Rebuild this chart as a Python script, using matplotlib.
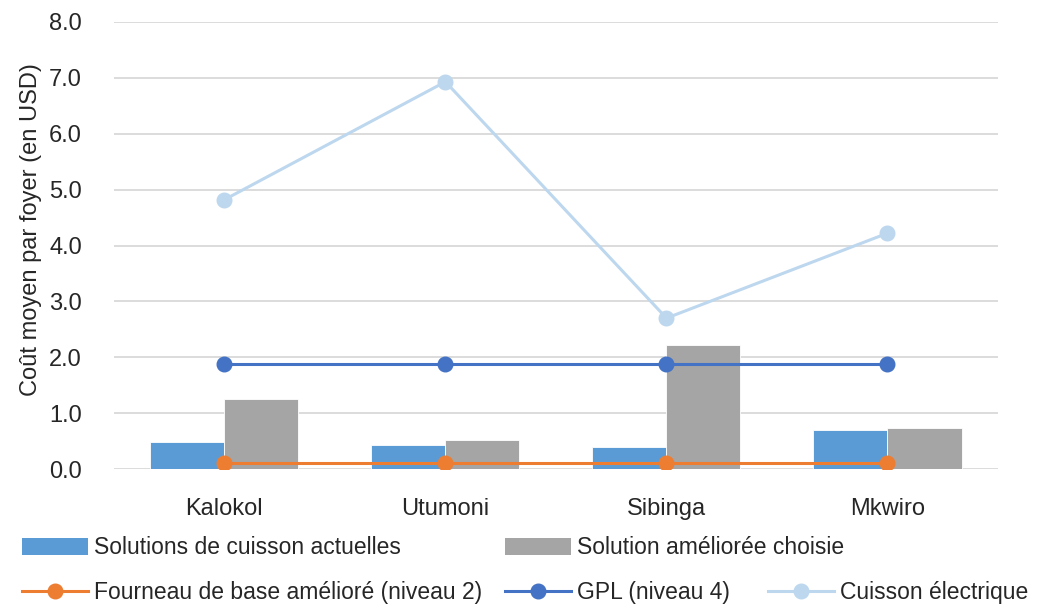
import numpy as np
import matplotlib.pyplot as plt
from matplotlib.lines import Line2D
from matplotlib.patches import Patch

plt.rcParams['font.family'] = ['Liberation Sans', 'DejaVu Sans']

# cost per household, USD
sites = ["Kalokol", "Utumoni", "Sibinga", "Mkwiro"]
actuelles = [0.48, 0.43, 0.39, 0.70]
amelioree = [1.25, 0.52, 2.22, 0.73]
fourneau = [0.10, 0.10, 0.10, 0.10]
gpl = [1.88, 1.88, 1.88, 1.88]
electrique = [4.82, 6.93, 2.70, 4.22]

c_blue = "#5B9BD5"
c_gray = "#A5A5A5"
c_orange = "#ED7D31"
c_gpl = "#4472C4"
c_elec = "#BDD7EE"
c_text = "#262626"

fig = plt.figure(figsize=(10.45, 6.07), dpi=100)
ax = fig.add_axes([0.109, 0.2273, 0.846, 0.7365])

x = np.arange(len(sites))
w = 0.335
ax.bar(x - w / 2, actuelles, w, color=c_blue, edgecolor="white", linewidth=0.6, zorder=2)
ax.bar(x + w / 2, amelioree, w, color=c_gray, edgecolor="white", linewidth=0.6, zorder=2)

ms = 10.5
ax.plot(x, fourneau, color=c_orange, lw=2.2, marker="o", ms=ms, zorder=4)
ax.plot(x, gpl, color=c_gpl, lw=2.2, marker="o", ms=ms, zorder=4)
ax.plot(x, electrique, color=c_elec, lw=2.2, marker="o", ms=ms, zorder=3)

ax.set_xlim(-0.5, 3.5)
ax.set_ylim(0, 8)
ticks = np.arange(0, 8.1, 1.0)
ax.set_yticks(ticks)
ax.set_yticklabels([f"{v:.1f}" for v in ticks])
ax.set_xticks(x)
ax.set_xticklabels(sites)
ax.tick_params(length=0, labelsize=17, colors=c_text)
ax.tick_params(axis="x", pad=21)
ax.tick_params(axis="y", pad=23)
ax.yaxis.grid(True, color="#D9D9D9", lw=1.3, zorder=0)
ax.set_axisbelow(True)
for s in ax.spines.values():
    s.set_visible(False)
ax.set_ylabel("Coût moyen par foyer (en USD)", fontsize=17, color=c_text)
ax.yaxis.set_label_coords(-0.081, 0.535)

# legend entries placed one by one
entries = [
    (Patch(facecolor=c_blue), "Solutions de cuisson actuelles", 22, 548),
    (Patch(facecolor=c_gray), "Solution améliorée choisie", 505, 548),
    (Line2D([], [], color=c_orange, lw=2.2, marker="o", ms=ms), "Fourneau de base amélioré (niveau 2)", 22, 593),
    (Line2D([], [], color=c_gpl, lw=2.2, marker="o", ms=ms), "GPL (niveau 4)", 505, 593),
    (Line2D([], [], color=c_elec, lw=2.2, marker="o", ms=ms), "Cuisson électrique", 768, 593),
]
for h, lab, px, py in entries:
    fig.legend([h], [lab], loc="center left",
               bbox_to_anchor=(px / 1045, 1 - py / 607),
               frameon=False, fontsize=16.5, handlelength=2.9, handleheight=0.8,
               handletextpad=0.25, borderpad=0, borderaxespad=0, labelcolor=c_text)

fig.savefig("out.png", dpi=100)
